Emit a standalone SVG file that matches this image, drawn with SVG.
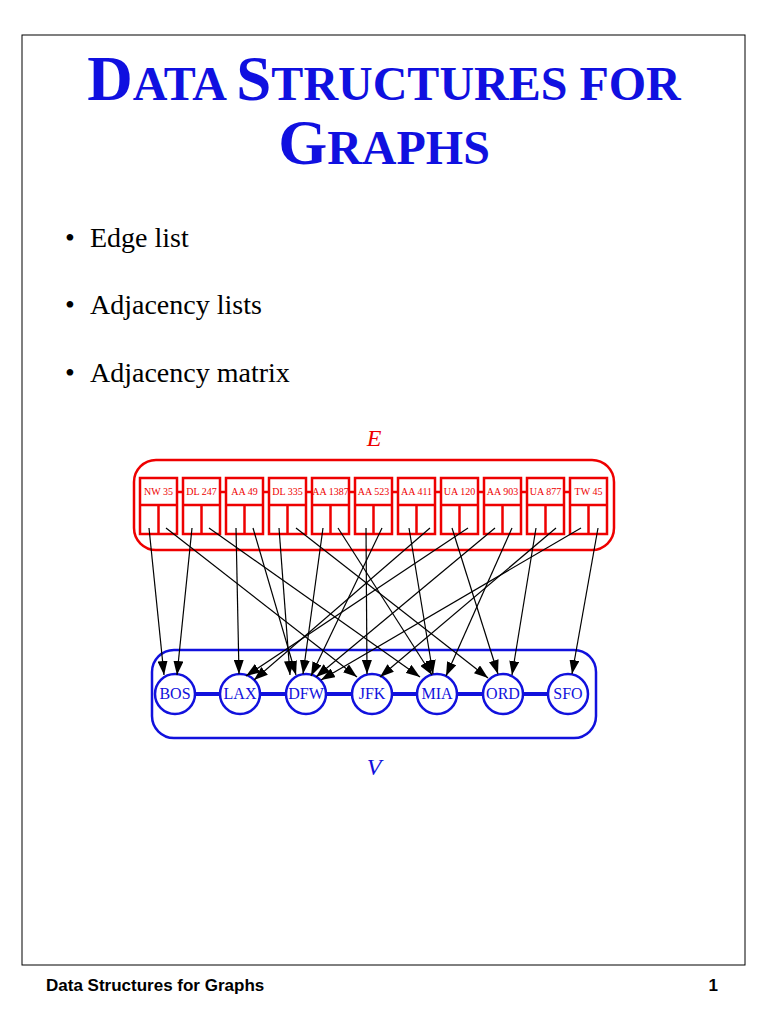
<svg xmlns="http://www.w3.org/2000/svg" width="768" height="1024" viewBox="0 0 768 1024">
<style>
.t{font-family:"Liberation Serif",serif;fill:#1010e0;font-weight:bold}
.b{font-family:"Liberation Serif",serif;font-size:28px;fill:#000}
.eb{fill:none;stroke:#e00;stroke-width:2.5}
.el{font-family:"Liberation Serif",serif;font-size:10px;fill:#e00;text-anchor:middle}
.vc{fill:#fff;stroke:#11d;stroke-width:2.5}
.vl{font-family:"Liberation Serif",serif;font-size:16px;fill:#11d;text-anchor:middle}
.c line{stroke:#000;stroke-width:1.2;marker-end:url(#a)}
</style>
<defs><marker id="a" viewBox="0 0 10 10" refX="10" refY="5" markerWidth="14" markerHeight="10" markerUnits="userSpaceOnUse" orient="auto" preserveAspectRatio="none"><path d="M0,0L10,5L0,10z" fill="#000"/></marker></defs>
<rect x="22" y="35" width="723" height="930" fill="#fff" stroke="#000"/>
<text class="t" x="384" y="100" text-anchor="middle"><tspan font-size="63">D</tspan><tspan font-size="48">ATA </tspan><tspan font-size="63">S</tspan><tspan font-size="48">TRUCTURES FOR</tspan></text>
<text class="t" x="384" y="164" text-anchor="middle"><tspan font-size="63">G</tspan><tspan font-size="48">RAPHS</tspan></text>
<text class="b" x="65" y="247">•</text><text class="b" x="90" y="247">Edge list</text>
<text class="b" x="65" y="314">•</text><text class="b" x="90" y="314">Adjacency lists</text>
<text class="b" x="65" y="382">•</text><text class="b" x="90" y="382">Adjacency matrix</text>
<text x="374" y="446" font-family="Liberation Serif" font-style="italic" font-size="24" fill="#e00" text-anchor="middle">E</text>
<text x="374" y="775" font-family="Liberation Serif" font-style="italic" font-size="24" fill="#11d" text-anchor="middle">V</text>
<rect x="134" y="460" width="480" height="90" rx="22" fill="none" stroke="#e00" stroke-width="2.5"/>
<path d="M177,492H183M220,492H226M263,492H269M306,492H312M349,492H355M392,492H398M435,492H441M478,492H484M521,492H527M564,492H570" stroke="#e00" stroke-width="2.5"/>
<g id="e1"><rect class="eb" x="140" y="478" width="37" height="56"/><path class="eb" d="M140,505H177M158.5,505V534"/><text class="el" x="158.5" y="495">NW 35</text></g>
<g id="e2"><rect class="eb" x="183" y="478" width="37" height="56"/><path class="eb" d="M183,505H220M201.5,505V534"/><text class="el" x="201.5" y="495">DL 247</text></g>
<g id="e3"><rect class="eb" x="226" y="478" width="37" height="56"/><path class="eb" d="M226,505H263M244.5,505V534"/><text class="el" x="244.5" y="495">AA 49</text></g>
<g id="e4"><rect class="eb" x="269" y="478" width="37" height="56"/><path class="eb" d="M269,505H306M287.5,505V534"/><text class="el" x="287.5" y="495">DL 335</text></g>
<g id="e5"><rect class="eb" x="312" y="478" width="37" height="56"/><path class="eb" d="M312,505H349M330.5,505V534"/><text class="el" x="330.5" y="495">AA 1387</text></g>
<g id="e6"><rect class="eb" x="355" y="478" width="37" height="56"/><path class="eb" d="M355,505H392M373.5,505V534"/><text class="el" x="373.5" y="495">AA 523</text></g>
<g id="e7"><rect class="eb" x="398" y="478" width="37" height="56"/><path class="eb" d="M398,505H435M416.5,505V534"/><text class="el" x="416.5" y="495">AA 411</text></g>
<g id="e8"><rect class="eb" x="441" y="478" width="37" height="56"/><path class="eb" d="M441,505H478M459.5,505V534"/><text class="el" x="459.5" y="495">UA 120</text></g>
<g id="e9"><rect class="eb" x="484" y="478" width="37" height="56"/><path class="eb" d="M484,505H521M502.5,505V534"/><text class="el" x="502.5" y="495">AA 903</text></g>
<g id="e10"><rect class="eb" x="527" y="478" width="37" height="56"/><path class="eb" d="M527,505H564M545.5,505V534"/><text class="el" x="545.5" y="495">UA 877</text></g>
<g id="e11"><rect class="eb" x="570" y="478" width="37" height="56"/><path class="eb" d="M570,505H607M588.5,505V534"/><text class="el" x="588.5" y="495">TW 45</text></g>
<rect x="152" y="650" width="444" height="88" rx="22" fill="none" stroke="#11d" stroke-width="2.5"/>
<path d="M175,694H568" stroke="#11d" stroke-width="4"/>
<g id="BOS"><circle class="vc" cx="175" cy="694" r="20"/><text class="vl" x="175" y="699">BOS</text></g>
<g id="LAX"><circle class="vc" cx="240" cy="694" r="20"/><text class="vl" x="240" y="699">LAX</text></g>
<g id="DFW"><circle class="vc" cx="306" cy="694" r="20"/><text class="vl" x="306" y="699">DFW</text></g>
<g id="JFK"><circle class="vc" cx="372" cy="694" r="20"/><text class="vl" x="372" y="699">JFK</text></g>
<g id="MIA"><circle class="vc" cx="437" cy="694" r="20"/><text class="vl" x="437" y="699">MIA</text></g>
<g id="ORD"><circle class="vc" cx="503" cy="694" r="20"/><text class="vl" x="503" y="699">ORD</text></g>
<g id="SFO"><circle class="vc" cx="568" cy="694" r="20"/><text class="vl" x="568" y="699">SFO</text></g>
<g class="c">
<line x1="149" y1="528" x2="164" y2="675"/>
<line x1="166" y1="528" x2="357" y2="677"/>
<line x1="192" y1="528" x2="177" y2="675"/>
<line x1="209" y1="528" x2="420" y2="677"/>
<line x1="236" y1="528" x2="239" y2="674"/>
<line x1="253" y1="528" x2="296" y2="675"/>
<line x1="279" y1="528" x2="290" y2="675"/>
<line x1="296" y1="528" x2="488" y2="678"/>
<line x1="323" y1="528" x2="303" y2="674"/>
<line x1="338" y1="528" x2="432" y2="675"/>
<line x1="366" y1="528" x2="367" y2="674"/>
<line x1="382" y1="528" x2="311" y2="676"/>
<line x1="409" y1="528" x2="433" y2="674"/>
<line x1="430" y1="528" x2="254" y2="680"/>
<line x1="452" y1="528" x2="498" y2="674"/>
<line x1="468" y1="528" x2="246" y2="676"/>
<line x1="495" y1="528" x2="316" y2="677"/>
<line x1="512" y1="528" x2="446" y2="676"/>
<line x1="536" y1="528" x2="512" y2="675"/>
<line x1="556" y1="528" x2="380" y2="677"/>
<line x1="581" y1="528" x2="321" y2="680"/>
<line x1="598" y1="528" x2="572" y2="674"/>
</g>
<text x="46" y="991" font-family="Liberation Sans" font-weight="bold" font-size="17">Data Structures for Graphs</text>
<text x="718" y="991" font-family="Liberation Sans" font-weight="bold" font-size="17" text-anchor="end">1</text>
</svg>
